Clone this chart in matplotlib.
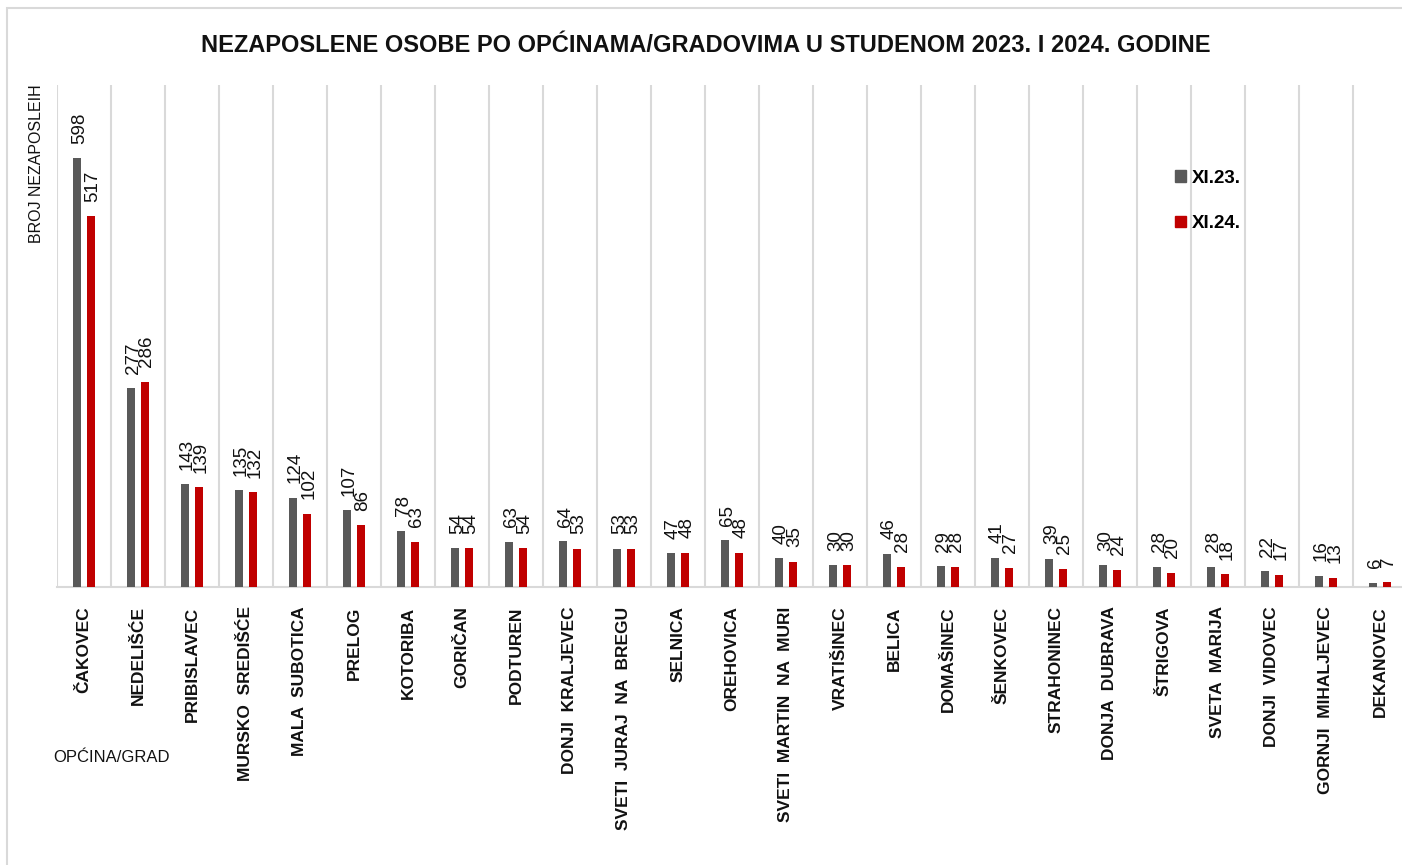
import matplotlib.pyplot as plt
import numpy as np
from matplotlib.patches import Patch, Rectangle

# podaci
opcine = ['ČAKOVEC', 'NEDELIŠĆE', 'PRIBISLAVEC', 'MURSKO  SREDIŠĆE', 'MALA  SUBOTICA', 'PRELOG',
          'KOTORIBA', 'GORIČAN', 'PODTUREN', 'DONJI  KRALJEVEC', 'SVETI  JURAJ  NA  BREGU', 'SELNICA',
          'OREHOVICA', 'SVETI  MARTIN  NA  MURI', 'VRATIŠINEC', 'BELICA', 'DOMAŠINEC', 'ŠENKOVEC',
          'STRAHONINEC', 'DONJA  DUBRAVA', 'ŠTRIGOVA', 'SVETA  MARIJA', 'DONJI  VIDOVEC',
          'GORNJI  MIHALJEVEC', 'DEKANOVEC']
xi_23 = [598, 277, 143, 135, 124, 107, 78, 54, 63, 64, 53, 47, 65, 40, 30, 46, 29, 41, 39, 30, 28, 28, 22, 16, 6]
xi_24 = [517, 286, 139, 132, 102, 86, 63, 54, 54, 53, 53, 48, 48, 35, 30, 28, 28, 27, 25, 24, 20, 18, 17, 13, 7]
serije = ['XI.23.', 'XI.24.']

lib = ['Liberation Sans', 'DejaVu Sans']
siva = '#595959'
crvena = '#C00000'
grid_c = '#D9D9D9'

W, H = 1402, 865
fig = plt.figure(figsize=(W / 100, H / 100), dpi=100)
# okvir grafikona
fig.patches.append(Rectangle((7 / W, -0.05), 1.1, (H - 8) / H + 0.05, transform=fig.transFigure,
                             fill=False, edgecolor=grid_c, linewidth=1.5))

ax = fig.add_axes([57 / W, (H - 587) / H, 1350 / W, 502 / H])
x = np.arange(len(opcine))
sirina = 0.15
pomak = 0.124
b1 = ax.bar(x - pomak, xi_23, width=sirina, color=siva, zorder=3)
b2 = ax.bar(x + pomak, xi_24, width=sirina, color=crvena, zorder=3)

for bars in (b1, b2):
    for b in bars:
        ax.annotate(str(int(b.get_height())), (b.get_x() + b.get_width() / 2, b.get_height()),
                    xytext=(1.5, 10.5), textcoords='offset points', rotation=90,
                    ha='center', va='bottom', fontsize=13.5, family=lib, color='#111111')

ax.set_xlim(-0.5, len(opcine) - 0.5)
ax.set_ylim(0, 700)
ax.set_xticks(x)
ax.set_xticklabels(opcine, rotation=90, fontsize=12.5, fontweight='bold', family=lib,
                   va='top', color='#111111')
ax.tick_params(axis='x', length=0, pad=14)
ax.set_xticks(np.arange(-0.5, len(opcine), 1), minor=True)
ax.tick_params(axis='x', which='minor', length=0)
ax.grid(True, which='minor', axis='x', color=grid_c, linewidth=1.5, zorder=0)
ax.set_yticks([])
for s in ['top', 'right', 'left']:
    ax.spines[s].set_visible(False)
ax.spines['bottom'].set_color(grid_c)
ax.spines['bottom'].set_linewidth(1.5)

fig.text(706 / W, 1 - 45 / H, 'NEZAPOSLENE OSOBE PO OPĆINAMA/GRADOVIMA U STUDENOM 2023. I 2024. GODINE',
         ha='center', va='center', fontsize=17, fontweight='bold', family=lib, color='#111111')
fig.text(37 / W, 1 - 164 / H, 'BROJ NEZAPOSLEIH', rotation=90, ha='center', va='center',
         fontsize=11.5, family=lib, color='#111111')
fig.text(111 / W, 1 - 758 / H, 'OPĆINA/GRAD', ha='center', va='center',
         fontsize=12, family=lib, color='#111111')

ruke = [Patch(color=siva), Patch(color=crvena)]
fig.legend(ruke, serije, loc='upper left', bbox_to_anchor=(1175 / W, 1 - 170 / H), frameon=False,
           handlelength=0.6, handleheight=0.6, handletextpad=0.3, labelspacing=1.5, borderpad=0,
           borderaxespad=0, prop={'family': lib, 'weight': 'bold', 'size': 13.5})

plt.savefig('out.png', dpi=100)
